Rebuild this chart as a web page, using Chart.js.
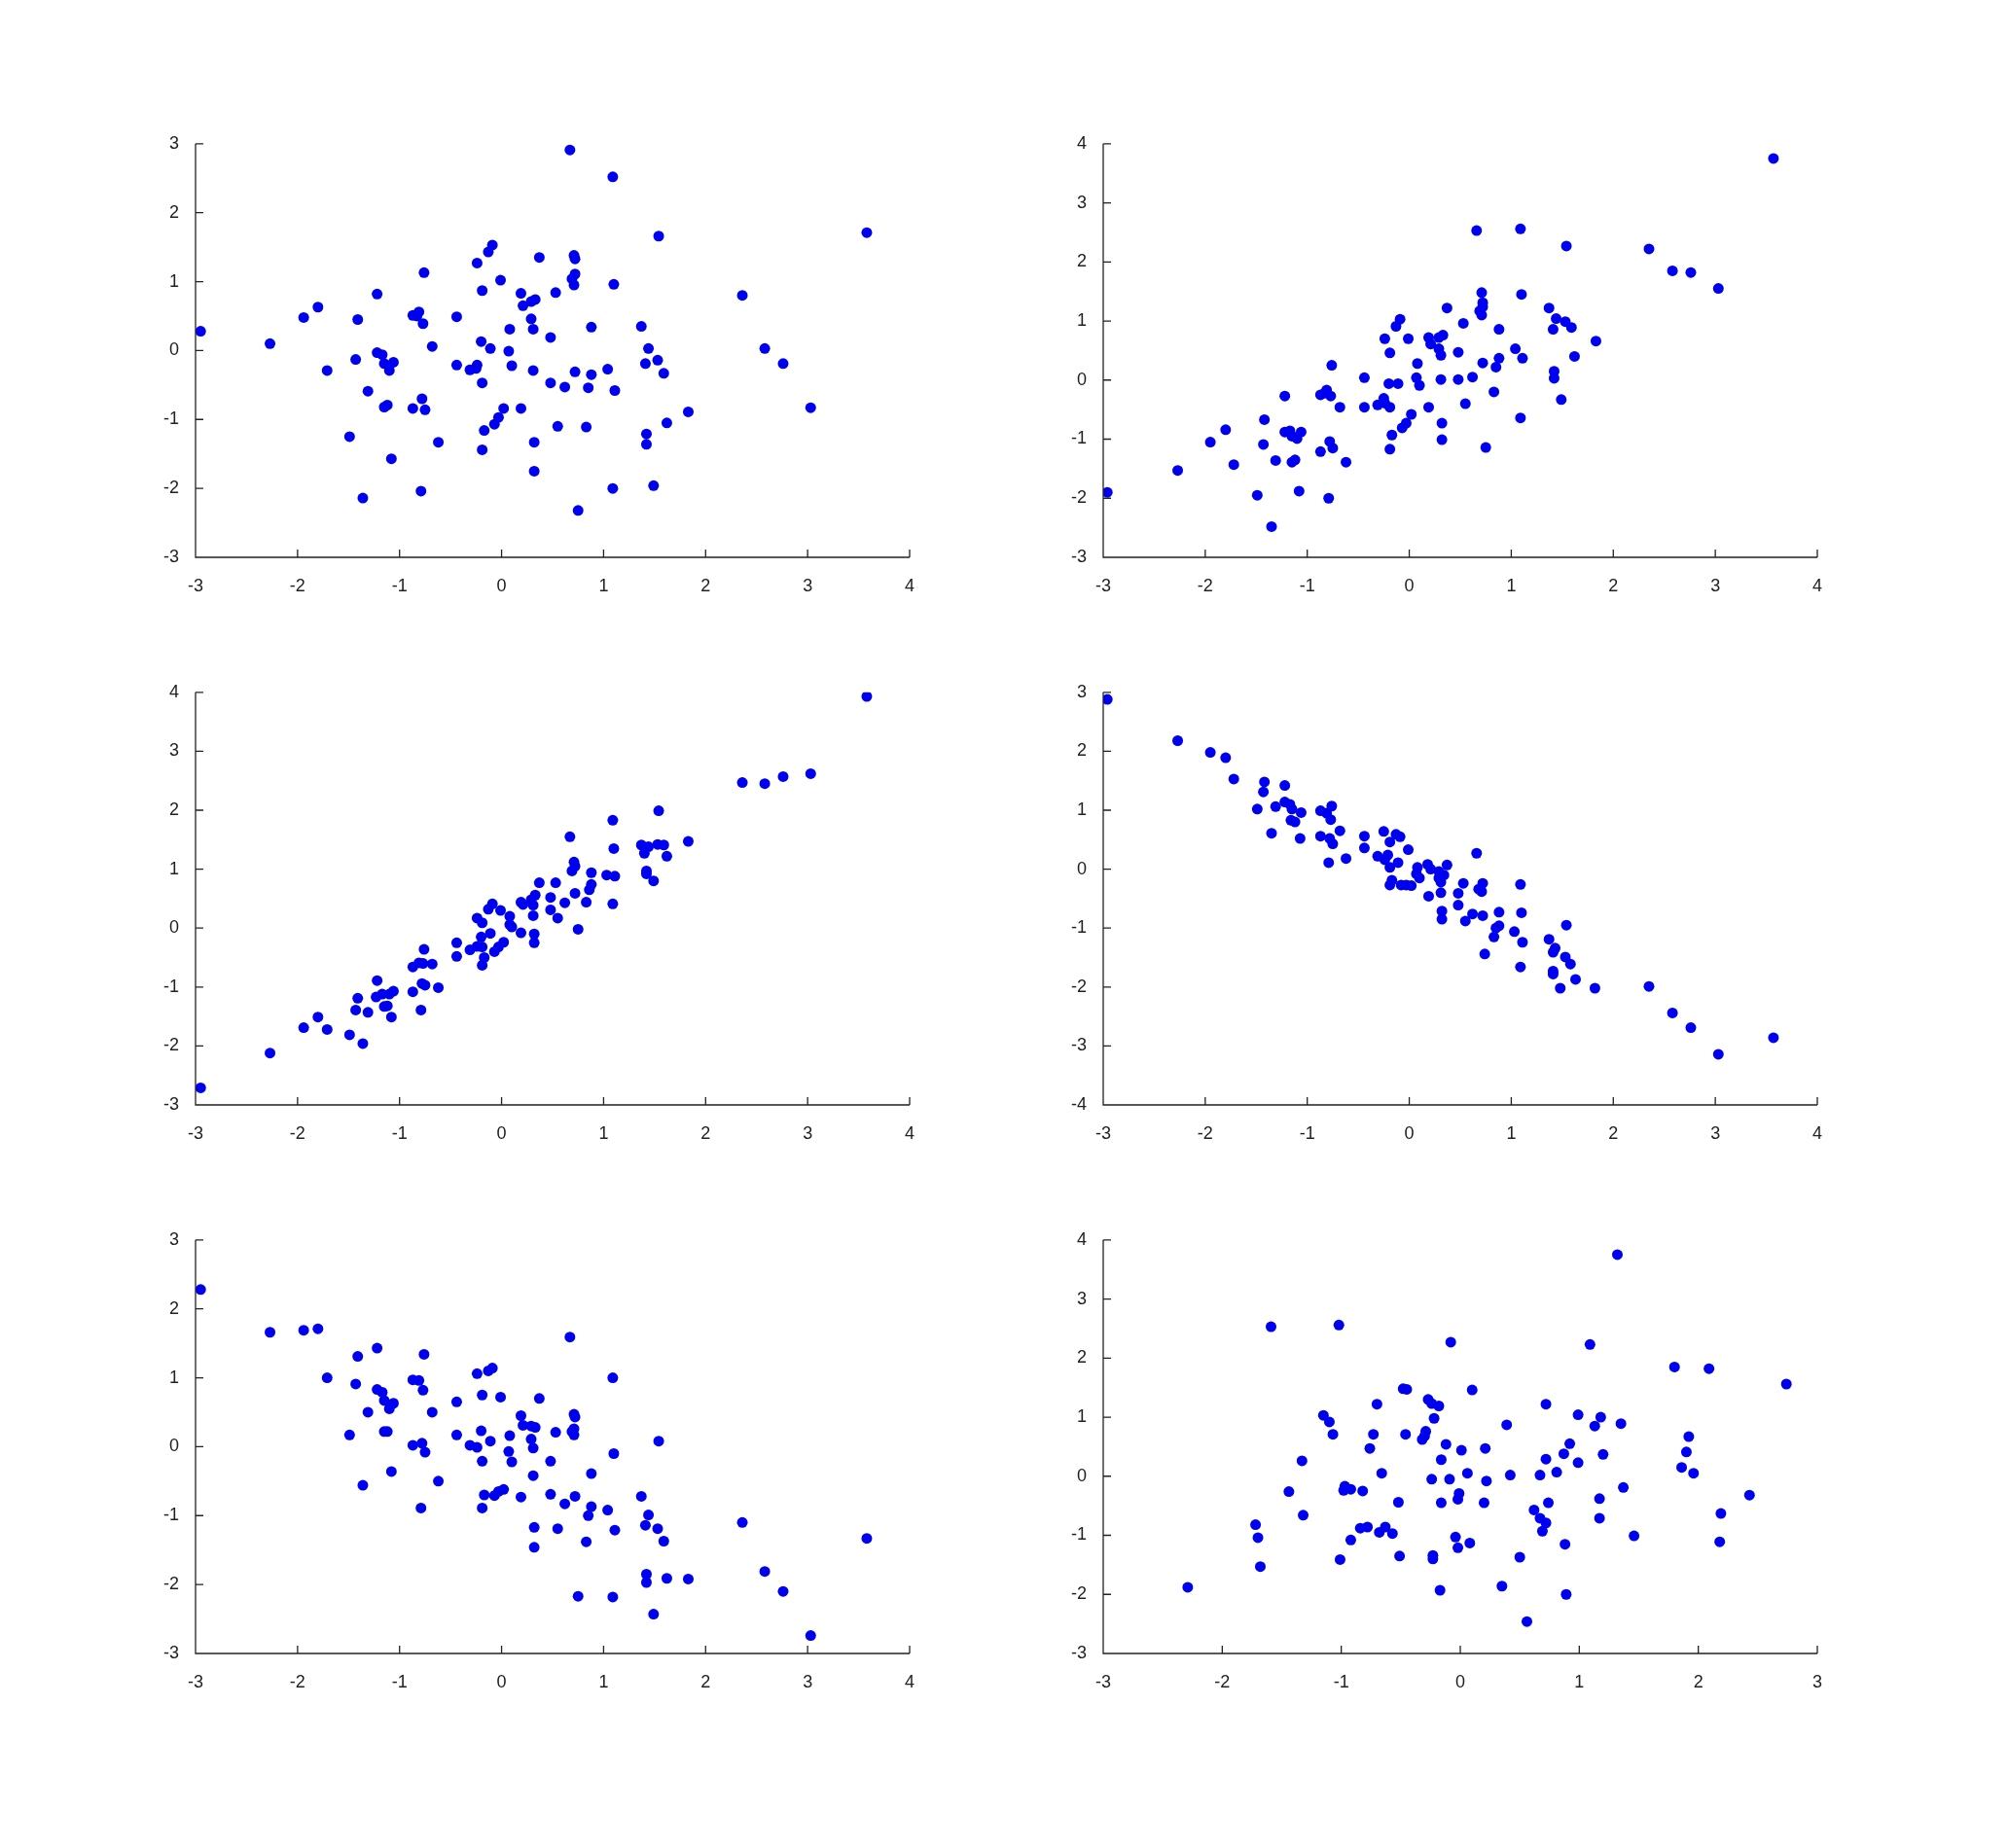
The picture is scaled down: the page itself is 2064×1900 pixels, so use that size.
<!DOCTYPE html>
<html><head><meta charset="utf-8">
<script src="https://cdn.jsdelivr.net/npm/chart.js@4.4.1/dist/chart.umd.min.js"></script>
<style>html,body{margin:0;padding:0;background:#fff;width:2064px;height:1900px;overflow:hidden}</style></head><body>
<script>
const p1x=[0.67,1.09,1.54,3.58,-0.09,-0.13,0.37,0.71,0.72,-0.24,-0.76,0.72,0.69,0.71,-0.01,1.10,-0.19,-1.22,0.19,0.53,2.36,0.33,0.29,0.21,-1.80,-1.94,-1.41,-0.87,-0.81,-0.83,-0.77,-0.44,0.29,0.08,0.31,0.88,1.37,-2.95,-2.27,0.48,-0.20,-0.68,-0.11,0.07,1.44,2.58,-1.22,-1.17,-1.43,-1.15,-1.06,-1.10,-1.71,-0.44,-0.24,-0.31,-0.25,0.10,0.31,0.72,0.88,1.04,1.41,1.53,1.59,2.76,-0.19,0.48,0.62,0.85,1.11,-1.31,-0.78,-1.12,-1.15,-0.87,-0.75,0.02,0.19,1.83,3.03,-0.03,-0.07,-0.17,0.55,0.83,1.62,1.42,1.42,-1.49,-0.62,0.32,-0.19,-1.08,0.32,-1.36,-0.79,1.09,1.49,0.75];
const p1y=[2.91,2.52,1.66,1.71,1.53,1.43,1.35,1.38,1.33,1.27,1.13,1.11,1.04,0.95,1.02,0.96,0.87,0.82,0.83,0.84,0.80,0.74,0.71,0.65,0.63,0.48,0.45,0.51,0.56,0.50,0.39,0.49,0.46,0.31,0.31,0.34,0.35,0.28,0.10,0.19,0.13,0.06,0.03,-0.01,0.03,0.03,-0.03,-0.06,-0.13,-0.19,-0.17,-0.29,-0.29,-0.21,-0.21,-0.28,-0.26,-0.22,-0.29,-0.31,-0.35,-0.27,-0.19,-0.14,-0.33,-0.19,-0.47,-0.47,-0.53,-0.54,-0.58,-0.59,-0.70,-0.79,-0.82,-0.84,-0.86,-0.84,-0.84,-0.89,-0.83,-0.97,-1.07,-1.16,-1.10,-1.11,-1.05,-1.21,-1.36,-1.25,-1.33,-1.33,-1.44,-1.57,-1.75,-2.14,-2.04,-2.00,-1.96,-2.32];
const p2x=[3.57,0.66,1.09,1.54,2.35,2.58,2.76,3.03,-2.96,-2.27,-1.95,-1.80,-1.72,-1.49,-1.42,-1.43,-1.35,-1.31,-1.22,-1.22,-1.17,-1.15,-1.10,-1.06,-1.12,-1.15,-1.08,-0.76,-0.81,-0.87,-0.83,-0.77,-0.78,-0.87,-0.75,-0.79,-0.68,-0.62,-0.44,-0.44,-0.31,-0.25,-0.24,-0.24,-0.19,-0.20,-0.19,-0.19,-0.17,-0.13,-0.09,-0.11,0.02,-0.03,-0.07,-0.01,0.07,0.08,0.10,0.19,0.21,0.19,0.29,0.33,0.29,0.31,0.31,0.32,0.32,0.37,0.48,0.48,0.53,0.55,0.62,0.71,0.72,0.72,0.69,0.71,0.72,0.75,0.88,0.88,0.85,0.83,1.04,1.10,1.11,1.09,1.37,1.44,1.41,1.42,1.42,1.49,1.53,1.59,1.62,1.83];
const p2y=[3.75,2.53,2.56,2.27,2.22,1.85,1.82,1.55,-1.90,-1.53,-1.05,-0.84,-1.43,-1.95,-0.67,-1.09,-2.48,-1.36,-0.27,-0.88,-0.86,-0.95,-0.99,-0.88,-1.35,-1.39,-1.88,0.25,-0.17,-0.25,-0.22,-0.27,-1.04,-1.21,-1.15,-2.00,-0.46,-1.39,0.04,-0.46,-0.42,-0.31,-0.39,0.70,0.46,-0.06,-0.46,-1.17,-0.93,0.91,1.03,-0.06,-0.58,-0.73,-0.81,0.70,0.04,0.28,-0.09,0.72,0.61,-0.46,0.72,0.76,0.53,0.42,0.01,-0.73,-1.01,1.22,0.47,0.01,0.96,-0.40,0.05,1.48,1.31,1.24,1.17,1.10,0.29,-1.14,0.86,0.37,0.22,-0.20,0.53,1.45,0.37,-0.64,1.22,1.04,0.86,0.15,0.03,-0.33,0.99,0.89,0.40,0.66];
const p3x=[3.58,2.36,2.58,2.76,3.03,1.54,1.09,0.67,1.83,1.10,1.37,1.44,1.53,1.59,1.40,1.62,1.42,1.42,1.49,0.71,0.72,0.69,0.88,1.03,1.11,1.09,0.88,0.86,0.83,0.72,0.75,0.37,0.53,0.48,0.62,0.48,0.55,0.33,0.29,0.31,0.19,0.21,0.31,0.32,0.32,0.19,-0.09,-0.13,-0.01,-0.24,-0.19,0.08,0.08,0.10,-0.11,-0.20,0.02,-0.03,-0.07,-0.19,-0.24,-0.31,-0.17,-0.19,-0.44,-0.44,-0.76,-0.81,-0.87,-0.77,-0.68,-0.78,-0.75,-0.62,-0.87,-0.79,-1.22,-1.23,-1.17,-1.06,-1.10,-1.15,-1.12,-1.08,-1.41,-1.43,-1.31,-1.80,-1.94,-1.71,-1.49,-1.36,-2.27,-2.95];
const p3y=[3.93,2.47,2.45,2.57,2.62,1.99,1.83,1.55,1.47,1.35,1.41,1.38,1.42,1.41,1.27,1.22,0.97,0.92,0.80,1.12,1.05,0.97,0.94,0.90,0.88,0.41,0.74,0.65,0.44,0.59,-0.02,0.77,0.77,0.52,0.43,0.31,0.17,0.56,0.48,0.39,0.44,0.40,0.21,-0.10,-0.25,-0.08,0.41,0.32,0.30,0.17,0.09,0.20,0.06,0.02,-0.09,-0.15,-0.24,-0.32,-0.40,-0.32,-0.31,-0.37,-0.50,-0.63,-0.25,-0.48,-0.36,-0.59,-0.66,-0.60,-0.61,-0.94,-0.97,-1.01,-1.08,-1.39,-0.89,-1.17,-1.12,-1.07,-1.12,-1.33,-1.32,-1.51,-1.19,-1.39,-1.43,-1.51,-1.69,-1.72,-1.81,-1.96,-2.12,-2.71];
const p4x=[-2.96,-2.27,-1.95,-1.80,-1.72,-1.42,-1.43,-1.22,-1.49,-1.31,-1.22,-1.17,-1.15,-1.06,-1.16,-1.12,-1.35,-1.07,-0.87,-0.81,-0.76,-0.77,-0.87,-0.78,-0.75,-0.79,-0.68,-0.62,-0.44,-0.44,-0.31,-0.25,-0.13,-0.09,-0.19,-0.24,-0.21,-0.19,-0.11,-0.01,-0.19,-0.17,-0.08,-0.03,0.02,0.07,0.08,0.10,0.18,0.21,0.29,0.34,0.29,0.31,0.37,0.19,0.31,0.32,0.32,0.48,0.53,0.48,0.66,0.72,0.68,0.71,0.62,0.55,0.72,0.74,0.88,0.88,0.85,0.83,1.09,1.10,1.03,1.11,1.09,1.54,1.37,1.43,1.41,1.53,1.58,1.41,1.41,1.63,1.48,1.82,2.35,2.58,2.76,3.03,3.57];
const p4y=[2.88,2.18,1.98,1.89,1.53,1.48,1.31,1.42,1.02,1.06,1.14,1.10,1.02,0.96,0.83,0.80,0.61,0.52,0.99,0.95,1.07,0.84,0.56,0.52,0.43,0.11,0.65,0.18,0.56,0.36,0.22,0.64,0.59,0.55,0.46,0.16,0.24,0.03,0.11,0.33,-0.27,-0.19,-0.27,-0.27,-0.28,-0.08,0.03,-0.15,0.08,0.00,-0.04,-0.10,-0.15,-0.22,0.07,-0.46,-0.40,-0.71,-0.85,-0.41,-0.24,-0.61,0.27,-0.24,-0.34,-0.38,-0.76,-0.88,-0.79,-1.44,-0.73,-0.96,-1.00,-1.15,-0.26,-0.74,-1.06,-1.24,-1.66,-0.95,-1.19,-1.34,-1.41,-1.49,-1.61,-1.73,-1.78,-1.87,-2.02,-2.02,-1.99,-2.44,-2.69,-3.14,-2.86];
const p5x=[-2.95,-2.27,-1.94,-1.80,0.67,-1.22,-1.41,-0.76,-0.24,-0.13,-0.09,-1.71,1.09,-1.43,-0.87,-0.81,-0.77,-1.22,-1.17,-1.15,-1.06,-1.10,-0.19,-0.01,0.37,-0.44,-1.31,-0.68,0.19,0.71,0.72,0.21,0.29,0.33,0.71,0.69,0.71,0.53,-1.15,-1.12,-1.49,-0.44,-0.20,0.08,-0.11,0.29,0.31,1.54,-0.87,-0.78,-0.75,-0.31,-0.24,0.07,1.10,-0.19,0.10,0.48,-1.08,0.88,0.31,-0.62,-1.36,0.02,-0.03,-0.07,-0.17,0.19,0.48,0.72,1.37,0.62,-0.19,-0.79,0.88,1.04,0.85,1.44,2.36,1.41,1.53,0.32,0.55,1.11,3.58,1.59,0.83,0.32,1.42,1.42,1.62,1.83,2.58,0.75,1.09,2.76,1.49,3.03];
const p5y=[2.28,1.66,1.69,1.71,1.59,1.43,1.31,1.34,1.06,1.10,1.14,1.00,1.00,0.91,0.97,0.96,0.82,0.83,0.79,0.67,0.63,0.55,0.75,0.72,0.70,0.65,0.50,0.50,0.45,0.47,0.43,0.31,0.30,0.28,0.26,0.22,0.17,0.21,0.22,0.22,0.17,0.17,0.23,0.16,0.08,0.11,-0.02,0.08,0.02,0.05,-0.08,0.02,-0.01,-0.07,-0.10,-0.21,-0.22,-0.21,-0.36,-0.39,-0.42,-0.50,-0.56,-0.62,-0.65,-0.71,-0.70,-0.73,-0.69,-0.72,-0.72,-0.83,-0.89,-0.89,-0.87,-0.92,-1.00,-0.99,-1.10,-1.14,-1.19,-1.17,-1.19,-1.21,-1.33,-1.37,-1.38,-1.46,-1.85,-1.97,-1.91,-1.92,-1.81,-2.17,-2.18,-2.10,-2.43,-2.74];
const p6x=[1.32,-1.59,-1.02,-0.08,1.09,1.80,2.09,2.74,-0.48,-0.45,0.10,-0.27,-0.24,-0.18,-0.70,0.72,-1.15,-1.10,-0.22,0.99,1.18,1.13,1.35,0.39,-1.07,-0.73,-0.46,-0.29,-0.30,-0.32,1.92,-0.12,0.01,0.21,0.92,-0.76,0.87,1.20,1.90,-1.33,-0.16,0.72,0.99,1.86,1.96,-0.66,0.06,0.42,0.67,0.81,-0.24,-0.09,0.22,-1.44,-0.98,-0.97,-0.92,-0.82,-0.01,-0.02,1.37,2.43,-0.52,-0.16,0.20,0.74,1.17,0.62,-1.32,2.19,-1.72,0.67,0.72,0.69,1.17,-0.84,-0.78,-0.63,-0.68,-0.57,-1.70,-0.92,-0.04,-0.02,0.08,0.88,1.46,2.18,-0.51,-0.23,-0.23,-1.01,0.50,-1.68,-2.29,-0.17,0.35,0.89,0.56];
const p6y=[3.75,2.53,2.56,2.27,2.23,1.85,1.82,1.56,1.48,1.47,1.46,1.30,1.23,1.19,1.22,1.22,1.03,0.92,0.98,1.04,1.00,0.85,0.89,0.87,0.71,0.71,0.71,0.76,0.68,0.62,0.67,0.54,0.44,0.47,0.55,0.47,0.38,0.37,0.41,0.26,0.28,0.29,0.23,0.15,0.05,0.05,0.05,0.02,0.02,0.07,-0.05,-0.05,-0.08,-0.26,-0.24,-0.17,-0.22,-0.25,-0.29,-0.39,-0.19,-0.32,-0.44,-0.45,-0.45,-0.45,-0.38,-0.57,-0.66,-0.63,-0.82,-0.71,-0.79,-0.93,-0.71,-0.88,-0.86,-0.86,-0.95,-0.97,-1.04,-1.08,-1.03,-1.21,-1.13,-1.15,-1.01,-1.11,-1.35,-1.34,-1.40,-1.41,-1.37,-1.53,-1.88,-1.93,-1.86,-2.00,-2.46];

const panels=[
 {x:p1x,y:p1y,xr:[-3,4],yr:[-3,3],L:201,T:143,R:935,B:573},
 {x:p2x,y:p2y,xr:[-3,4],yr:[-3,4],L:1134,T:143,R:1868,B:573},
 {x:p3x,y:p3y,xr:[-3,4],yr:[-3,4],L:201,T:707,R:935,B:1136},
 {x:p4x,y:p4y,xr:[-3,4],yr:[-4,3],L:1134,T:707,R:1868,B:1136},
 {x:p5x,y:p5y,xr:[-3,4],yr:[-3,3],L:201,T:1270,R:935,B:1700},
 {x:p6x,y:p6y,xr:[-3,3],yr:[-3,4],L:1134,T:1270,R:1868,B:1700}
];
const PADL=60,PADT=15,PADR=20,PADB=45;
const inTicks={id:'inTicks',afterDraw(ch){
 const c=ch.ctx,a=ch.chartArea,sx=ch.scales.x,sy=ch.scales.y;
 c.save();c.strokeStyle='#222';c.lineWidth=1.3;c.beginPath();
 c.moveTo(a.left,a.top);c.lineTo(a.left,a.bottom);c.lineTo(a.right,a.bottom);
 sx.ticks.forEach(t=>{const p=sx.getPixelForValue(t.value);c.moveTo(p,a.bottom);c.lineTo(p,a.bottom-8);});
 sy.ticks.forEach(t=>{const p=sy.getPixelForValue(t.value);c.moveTo(a.left,p);c.lineTo(a.left+8,p);});
 c.stroke();c.restore();}};
panels.forEach(p=>{
 const w=p.R-p.L+PADL+PADR,h=p.B-p.T+PADT+PADB;
 const d=document.createElement('div');d.style.cssText=`position:absolute;left:${p.L-PADL}px;top:${p.T-PADT}px;width:${w}px;height:${h}px`;
 const cv=document.createElement('canvas');
 d.appendChild(cv);document.body.appendChild(d);
 new Chart(cv,{type:'scatter',
  data:{datasets:[{data:p.x.map((v,i)=>({x:v,y:p.y[i]})),backgroundColor:'#0000f0',borderColor:'#0000f0',pointRadius:5.5,pointBorderWidth:0}]},
  options:{responsive:true,maintainAspectRatio:false,animation:false,
   layout:{padding:{top:PADT,right:PADR,left:0,bottom:0}},
   plugins:{legend:{display:false},tooltip:{enabled:false}},
   scales:{
    x:{type:'linear',min:p.xr[0],max:p.xr[1],border:{display:false},grid:{display:false},
       ticks:{stepSize:1,color:'#222',font:{family:'Liberation Sans',size:18},padding:11,maxRotation:0},
       afterFit(s){s.height=PADB;}},
    y:{type:'linear',min:p.yr[0],max:p.yr[1],border:{display:false},grid:{display:false},
       ticks:{stepSize:1,color:'#222',font:{family:'Liberation Sans',size:18},padding:9},
       afterFit(s){s.width=PADL;}}}},
  plugins:[inTicks]});
});
</script></body></html>
